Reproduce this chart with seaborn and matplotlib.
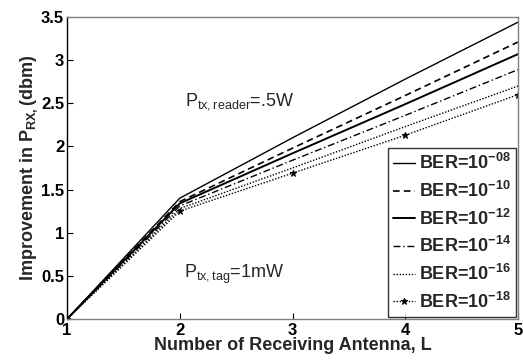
import matplotlib
matplotlib.use("Agg")
import matplotlib.pyplot as plt
import seaborn as sns
import pandas as pd

sns.set_theme(style="ticks")
plt.rcParams['font.family'] = ['Liberation Sans', 'DejaVu Sans']
plt.rcParams['mathtext.fontset'] = 'custom'
plt.rcParams['mathtext.rm'] = 'Liberation Sans'
plt.rcParams['mathtext.bf'] = 'Liberation Sans:bold'

L = [1, 2, 3, 4, 5]
ber_labels = ["08", "10", "12", "14", "16", "18"]
ber08 = [0.0, 1.40, 2.10, 2.78, 3.44]
ber10 = [0.0, 1.36, 1.98, 2.59, 3.21]
ber12 = [0.0, 1.34, 1.92, 2.49, 3.07]
ber14 = [0.0, 1.31, 1.84, 2.36, 2.89]
ber16 = [0.0, 1.28, 1.75, 2.23, 2.70]
ber18 = [0.0, 1.25, 1.69, 2.13, 2.60]
series = [ber08, ber10, ber12, ber14, ber16, ber18]
xticks = [1, 2, 3, 4, 5]
yticks = [0, 0.5, 1, 1.5, 2, 2.5, 3, 3.5]
ytick_labels = ["0", "0.5", "1", "1.5", "2", "2.5", "3", "3.5"]

styles = [
    dict(linestyle='-', linewidth=1.0),
    dict(linestyle=(0, (4, 2.5)), linewidth=1.2),
    dict(linestyle='-', linewidth=1.4),
    dict(linestyle=(0, (5, 2, 1, 2)), linewidth=1.0),
    dict(linestyle=(0, (1, 1.2)), linewidth=1.0),
    dict(linestyle=(0, (1, 1.2)), linewidth=1.0),
]

fig = plt.figure(figsize=(5.23, 3.6), dpi=100)
ax = fig.add_axes([67/523, 41/360, 451/523, 302/360])

for vals, lab, st in zip(series, ber_labels, styles):
    df = pd.DataFrame({"L": L, "v": vals})
    sns.lineplot(data=df, x="L", y="v", ax=ax, color='black',
                 label=r'BER=10$^{\mathbf{-' + lab + '}}$', **st)

last = ax.get_lines()[-1]
last.set_marker('*')
last.set_markersize(5)
last.set_markerfacecolor('black')
last.set_markeredgecolor('black')

ax.set_xlim(1, 5)
ax.set_ylim(0, 3.5)
ax.set_xticks(xticks)
ax.set_xticklabels([str(t) for t in xticks], fontweight='bold', fontsize=12)
ax.set_yticks(yticks)
ax.set_yticklabels(ytick_labels, fontweight='bold', fontsize=12)
ax.tick_params(direction='in', length=4, width=0.8, colors='black')
ax.tick_params(axis='x', pad=3)
ax.tick_params(axis='y', pad=2)
ax.set_xlabel("Number of Receiving Antenna, L", fontweight='bold', fontsize=13, labelpad=-1)
ax.set_ylabel(r"Improvement in P$_{\mathbf{RX,}}$(dbm)", fontweight='bold', fontsize=13, labelpad=1)

for side in ['top', 'right', 'bottom']:
    ax.spines[side].set_color('#808080')
ax.spines['left'].set_color('black')
for s in ax.spines.values():
    s.set_linewidth(1.0)

ax.text(2.05, 2.48, r"P$_{\mathregular{tx,reader}}$=.5W", fontsize=13)
ax.text(2.04, 0.475, r"P$_{\mathregular{tx,tag}}$=1mW", fontsize=13)

leg = ax.legend(loc='lower right', frameon=True, fancybox=False,
                handlelength=1.2, handletextpad=0.2, labelspacing=0.42,
                borderpad=0.3, borderaxespad=0.1, prop={'weight': 'bold', 'size': 13})
leg.get_frame().set_edgecolor('black')
leg.get_frame().set_linewidth(1.0)

fig.savefig("out.png", dpi=100)
